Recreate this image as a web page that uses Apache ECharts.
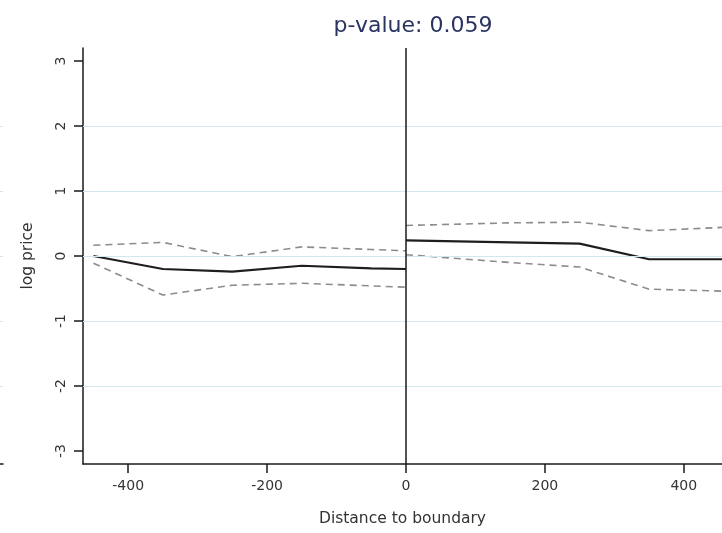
<!DOCTYPE html>
<html><head><meta charset="utf-8">
<script src="https://cdn.jsdelivr.net/npm/echarts@6/dist/echarts.min.js"></script>
<style>html,body{margin:0;padding:0;background:#fff}#c{width:722px;height:533px}</style>
</head><body><div id="c"></div>
<script>
const titleText = 'p-value: 0.059';
const xTicks = [-400, -200, 0, 200, 400];
const yTicks = [-3, -2, -1, 0, 1, 2, 3];
const gridVals = [-2, -1, 0, 1, 2];
const leftX = [-450, -350, -250, -150, -50, 0];
const leftMean = [0.0, -0.20, -0.24, -0.15, -0.19, -0.20];
const leftUpper = [0.165, 0.21, -0.01, 0.14, 0.10, 0.08];
const leftLower = [-0.11, -0.60, -0.45, -0.42, -0.46, -0.48];
const rightX = [0, 150, 250, 350, 455];
const rightMean = [0.24, 0.21, 0.19, -0.05, -0.05];
const rightUpper = [0.47, 0.51, 0.52, 0.39, 0.44];
const rightLower = [0.02, -0.10, -0.17, -0.51, -0.54];

const zip = (xs, ys) => xs.map((x, i) => [x, ys[i]]);
const font = 'DejaVu Sans, sans-serif';
const solid = {type: 'line', symbol: 'none', z: 4, lineStyle: {color: '#1e1e1e', width: 2.2}};
const dashed = {type: 'line', symbol: 'none', z: 3, lineStyle: {color: '#8c8c8c', width: 1.6, type: [7, 5]}};

const chart = echarts.init(document.getElementById('c'), null, {renderer: 'canvas'});
chart.setOption({
  animation: false,
  title: {text: titleText, left: 408, top: 10, textAlign: 'center',
    textStyle: {fontFamily: font, fontSize: 22, fontWeight: 'normal', color: '#2a3462'}},
  grid: [
    {left: 83, right: 0, top: 48, bottom: 69},
    {left: 0, width: 3, top: 48, bottom: 69}
  ],
  xAxis: [{
    type: 'value', min: -465, max: 455, gridIndex: 0,
    name: 'Distance to boundary', nameLocation: 'middle', nameGap: 47,
    nameTextStyle: {fontFamily: font, fontSize: 15.5, color: '#333'},
    axisLine: {show: true, onZero: false, lineStyle: {color: '#1a1a1a', width: 1.5}},
    axisTick: {show: true, length: 9, customValues: xTicks, lineStyle: {color: '#1a1a1a', width: 1.5}},
    axisLabel: {customValues: xTicks, margin: 15, fontFamily: font, fontSize: 14, color: '#333'},
    splitLine: {show: false}
  }, {
    type: 'value', min: 0, max: 1, gridIndex: 1,
    axisLine: {show: true, onZero: false, lineStyle: {color: '#1a1a1a', width: 1.5}},
    axisTick: {show: false}, axisLabel: {show: false}, splitLine: {show: false}
  }],
  yAxis: [{
    type: 'value', min: -3.2, max: 3.2, gridIndex: 0,
    name: 'log price', nameLocation: 'middle', nameGap: 47,
    nameTextStyle: {fontFamily: font, fontSize: 15.5, color: '#333'},
    axisLine: {show: true, onZero: false, lineStyle: {color: '#1a1a1a', width: 1.5}},
    axisTick: {show: true, length: 9, customValues: yTicks, lineStyle: {color: '#1a1a1a', width: 1.5}},
    axisLabel: {customValues: yTicks, rotate: 90, margin: 15, fontFamily: font, fontSize: 14, color: '#333'},
    splitLine: {show: false}
  }, {
    type: 'value', min: -3.2, max: 3.2, gridIndex: 1,
    axisLine: {show: false}, axisTick: {show: false}, axisLabel: {show: false}, splitLine: {show: false}
  }],
  series: [
    {type: 'line', data: [], z: 1, silent: true,
      markLine: {silent: true, symbol: 'none', label: {show: false},
        lineStyle: {color: '#d2e8ee', width: 1, type: 'solid'},
        data: gridVals.map(v => ({yAxis: v}))}},
    {type: 'line', data: [], z: 5, silent: true,
      markLine: {silent: true, symbol: 'none', label: {show: false},
        lineStyle: {color: '#1a1a1a', width: 1.5, type: 'solid'},
        data: [{xAxis: 0}]}},
    {type: 'line', xAxisIndex: 1, yAxisIndex: 1, data: [], z: 1, silent: true,
      markLine: {silent: true, symbol: 'none', label: {show: false},
        lineStyle: {color: '#d2e8ee', width: 1, type: 'solid'},
        data: gridVals.map(v => ({yAxis: v}))}},
    Object.assign({}, dashed, {data: zip(leftX, leftUpper)}),
    Object.assign({}, dashed, {data: zip(leftX, leftLower)}),
    Object.assign({}, solid, {data: zip(leftX, leftMean)}),
    Object.assign({}, dashed, {data: zip(rightX, rightUpper)}),
    Object.assign({}, dashed, {data: zip(rightX, rightLower)}),
    Object.assign({}, solid, {data: zip(rightX, rightMean)})
  ]
});
</script></body></html>
